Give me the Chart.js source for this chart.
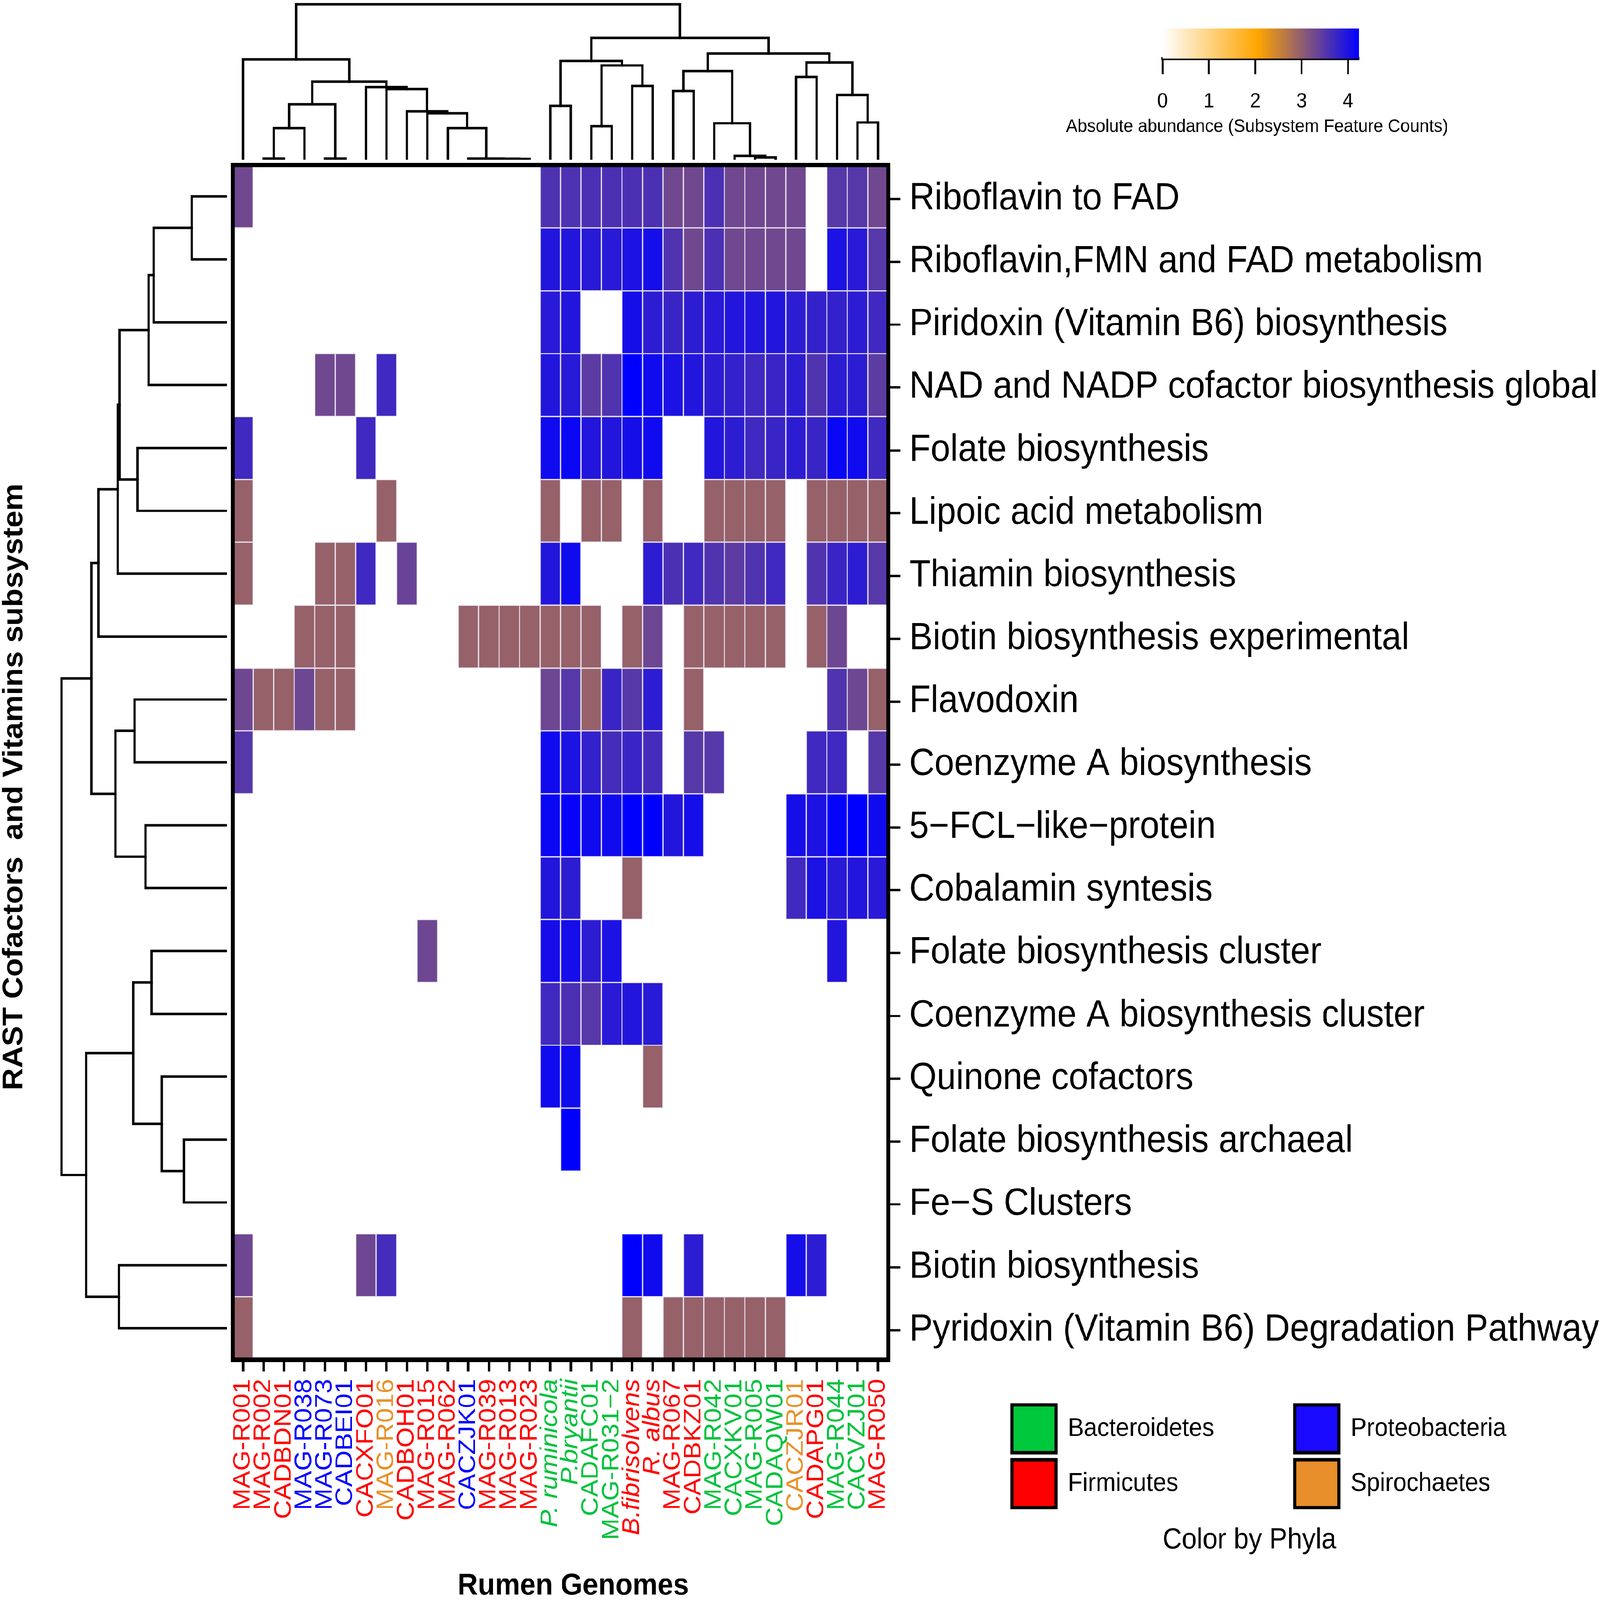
<!DOCTYPE html>
<html><head><meta charset="utf-8">
<style>
html,body{margin:0;padding:0;background:#fff;width:100%;height:100%;overflow:hidden}
#page{position:absolute;left:0;top:0;width:4550px;height:4207px;overflow:hidden;transform-origin:0 0;background:#fff}
canvas{position:absolute;display:block}
</style>
<script src="https://cdn.jsdelivr.net/npm/chart.js@4/dist/chart.umd.js"></script>
</head><body>
<div id="page">
<canvas id="main"></canvas>
<canvas id="treeTop"></canvas>
<canvas id="treeLeft"></canvas>
<canvas id="colorbar"></canvas>
<canvas id="legendA"></canvas>
<canvas id="legendB"></canvas>
</div>
<script>
const genomes=["MAG-R001","MAG-R002","CADBDN01","MAG-R038","MAG-R073","CADBEI01","CACXFO01","MAG-R016","CADBOH01","MAG-R015","MAG-R062","CACZJK01","MAG-R039","MAG-R013","MAG-R023","P. ruminicola","P.bryantii","CADAFC01","MAG-R031\u22122","B.fibrisolvens","R. albus","MAG-R067","CADBKZ01","MAG-R042","CACXKV01","MAG-R005","CADAQW01","CACZJR01","CADAPG01","MAG-R044","CACVZJ01","MAG-R050"];
const genomePhylum=["F","F","F","P","P","P","F","S","F","F","F","P","F","F","F","B","B","B","B","F","F","F","F","B","B","B","B","S","F","B","B","F"];
const italicGenomes=["P. ruminicola","P.bryantii","B.fibrisolvens","R. albus"];
const subsystems=["Riboflavin to FAD","Riboflavin,FMN and FAD metabolism","Piridoxin (Vitamin B6) biosynthesis","NAD and NADP cofactor biosynthesis global","Folate biosynthesis","Lipoic acid metabolism","Thiamin biosynthesis","Biotin biosynthesis experimental","Flavodoxin","Coenzyme A biosynthesis","5\u2212FCL\u2212like\u2212protein","Cobalamin syntesis","Folate biosynthesis cluster","Coenzyme A biosynthesis cluster","Quinone cofactors","Folate biosynthesis archaeal","Fe\u2212S Clusters","Biotin biosynthesis","Pyridoxin (Vitamin B6) Degradation Pathway"];

const rowRiboflavinFad=[3.28,0,0,0,0,0,0,0,0,0,0,0,0,0,0,3.58,3.58,3.6,3.6,3.6,3.6,3.28,3.28,3.6,3.28,3.28,3.28,3.28,0,3.5,3.5,3.28];
const rowRiboflavinMetab=[0,0,0,0,0,0,0,0,0,0,0,0,0,0,0,3.95,3.95,3.9,3.9,4.0,4.05,3.55,3.28,3.6,3.28,3.28,3.28,3.28,0,4.0,3.9,3.5];
const rowPiridoxin=[0,0,0,0,0,0,0,0,0,0,0,0,0,0,0,3.9,3.95,0,0,4.05,3.85,3.75,3.85,3.9,3.95,3.95,3.95,3.85,3.8,3.8,3.85,3.7];
const rowNad=[0,0,0,0,3.28,3.28,0,3.7,0,0,0,0,0,0,0,3.95,3.9,3.45,3.55,4.24,4.1,4.0,3.95,3.85,3.8,3.7,3.75,3.85,3.55,3.85,3.85,3.45];
const rowFolate=[3.7,0,0,0,0,0,3.7,0,0,0,0,0,0,0,0,4.1,4.15,3.95,3.95,4.05,4.1,0,0,3.95,3.85,3.7,3.75,3.85,3.75,4.15,4.1,3.7];
const rowLipoic=[2.95,0,0,0,0,0,0,2.95,0,0,0,0,0,0,0,2.95,0,2.95,2.95,0,2.95,0,0,2.95,2.95,2.95,2.95,0,2.95,2.95,2.95,2.95];
const rowThiamin=[2.95,0,0,0,2.95,2.95,3.7,0,3.35,0,0,0,0,0,0,3.95,4.1,0,0,0,3.85,3.6,3.7,3.55,3.45,3.55,3.7,0,3.55,3.75,3.85,3.5];
const rowBiotinExp=[0,0,0,2.95,2.95,2.95,0,0,0,0,0,2.95,2.95,2.95,2.95,2.95,2.95,2.95,0,2.95,3.3,0,2.95,2.95,2.95,2.95,2.95,0,2.95,3.3,0,0];
const rowFlavodoxin=[3.3,2.95,2.95,3.3,2.95,2.95,0,0,0,0,0,0,0,0,0,3.3,3.5,2.95,3.75,3.5,3.85,0,2.95,0,0,0,0,0,0,3.55,3.3,2.95];
const rowCoA=[3.5,0,0,0,0,0,0,0,0,0,0,0,0,0,0,4.1,4.0,3.8,3.65,3.75,3.65,0,3.5,3.5,0,0,0,0,3.7,3.7,0,3.5];
const rowFcl=[0,0,0,0,0,0,0,0,0,0,0,0,0,0,0,4.15,4.2,4.1,4.1,4.24,4.24,3.95,4.05,0,0,0,0,4.05,4.0,4.2,4.24,4.1];
const rowCobalamin=[0,0,0,0,0,0,0,0,0,0,0,0,0,0,0,3.95,3.85,0,0,2.95,0,0,0,0,0,0,0,3.7,4.0,3.9,3.95,3.9];
const rowFolateCluster=[0,0,0,0,0,0,0,0,0,3.3,0,0,0,0,0,4.05,4.05,3.85,4.0,0,0,0,0,0,0,0,0,0,0,3.95,0,0];
const rowCoACluster=[0,0,0,0,0,0,0,0,0,0,0,0,0,0,0,3.7,3.6,3.5,3.9,3.95,3.9,0,0,0,0,0,0,0,0,0,0,0];
const rowQuinone=[0,0,0,0,0,0,0,0,0,0,0,0,0,0,0,4.1,4.1,0,0,0,2.95,0,0,0,0,0,0,0,0,0,0,0];
const rowFolateArch=[0,0,0,0,0,0,0,0,0,0,0,0,0,0,0,0,4.24,0,0,0,0,0,0,0,0,0,0,0,0,0,0,0];
const rowFeS=[0,0,0,0,0,0,0,0,0,0,0,0,0,0,0,0,0,0,0,0,0,0,0,0,0,0,0,0,0,0,0,0];
const rowBiotin=[3.3,0,0,0,0,0,3.3,3.65,0,0,0,0,0,0,0,0,0,0,0,4.24,4.1,0,3.85,0,0,0,0,4.05,3.85,0,0,0];
const rowPyridoxinDeg=[2.95,0,0,0,0,0,0,0,0,0,0,0,0,0,0,0,0,0,0,2.95,0,2.95,2.95,2.95,2.95,2.95,2.95,0,0,0,0,0];
const abundance=[rowRiboflavinFad,rowRiboflavinMetab,rowPiridoxin,rowNad,rowFolate,rowLipoic,rowThiamin,rowBiotinExp,rowFlavodoxin,rowCoA,rowFcl,rowCobalamin,rowFolateCluster,rowCoACluster,rowQuinone,rowFolateArch,rowFeS,rowBiotin,rowPyridoxinDeg];

// dendrograms: [childA, childB, height]; child < 100 is a leaf, 100+k is the k-th merge
const topMerges=[[1,2,3],[100,3,83],[4,5,3],[101,102,146],[13,14,2],[12,104,2.5],[11,105,3],[10,106,83],[9,107,122],[8,108,127],[7,109,186],[6,110,191],[103,111,205],[0,112,264],
[15,16,142],[17,18,88],[19,20,194],[115,116,248],[114,117,260],[21,22,181],[25,26,6],[24,120,10],[23,121,96],[119,122,233],[27,28,218],[30,31,98],[29,125,170],[124,126,256],[123,127,279],[118,128,320],[113,129,409]];
const leftMerges=[[0,1,99.5],[100,2,208],[101,3,222],[4,5,254],[102,103,305],[104,6,310],[105,7,365],[8,9,262],[10,11,231],[107,108,317],[106,109,385],[12,13,214],[15,16,122],[14,112,185],[111,113,266],[17,18,307],[114,115,400],[110,116,470]];

const colorStopValues=[0,2.05,4.24];
const colorStopRGB=[[255,255,255],[255,165,0],[0,0,255]];
const colorbarTicks=[0,1,2,3,4];
const phylaCodes=["B","F","P","S"];
const phylaNames={B:"Bacteroidetes",F:"Firmicutes",P:"Proteobacteria",S:"Spirochaetes"};
const labelColors={B:"#00C23C",F:"#FF0000",P:"#0000FF",S:"#E8912A"};
const swatchColors={B:"#00C83C",F:"#FF0000",P:"#1A0AFF",S:"#E88E2A"};

// the design grid is the reference's 4550x4207; the page is fitted to the real window
document.getElementById('page').style.transform=`scale(${window.innerWidth/4550},${window.innerHeight/4207})`;

const SANS='"Liberation Sans", Arial, sans-serif';
Chart.defaults.font.family=SANS;
Chart.defaults.color='#000';

function place(id,l,t,w,h){const c=document.getElementById(id);c.width=w;c.height=h;c.style.left=l+'px';c.style.top=t+'px';c.style.width=w+'px';c.style.height=h+'px';return c;}
function colorFor(v){
  for(let i=1;i<colorStopValues.length;i++){
    if(v<=colorStopValues[i]){
      const t=(v-colorStopValues[i-1])/(colorStopValues[i]-colorStopValues[i-1]);
      const a=colorStopRGB[i-1],b=colorStopRGB[i];
      return `rgb(${a.map((x,k)=>Math.round(x+(b[k]-x)*t)).join(',')})`;
    }
  }
  return 'rgb(0,0,255)';
}
const base={responsive:false,animation:false,devicePixelRatio:1,events:[],plugins:{legend:{display:false},tooltip:{enabled:false},title:{display:false}}};

const PLOT={l:662,t:434,r:2526,b:3575};

const pageTexts={id:'pageTexts',afterDraw(chart){
  const c=chart.ctx;c.save();c.fillStyle='#000';c.textBaseline='middle';c.textAlign='center';
  c.font='bold 80px '+SANS;c.fillText('Rumen Genomes',1630,4171);
  c.font='76px '+SANS;c.fillText('Color by Phyla',3553,4050);
  c.font='49px '+SANS;c.fillText('Absolute abundance (Subsystem Feature Counts)',3575,333);
  c.translate(41,2069);c.rotate(-Math.PI/2);
  c.font='bold 80px '+SANS;c.fillText('RAST Cofactors  and Vitamins subsystem',0,0);
  c.restore();
}};
const frame={id:'frame',afterDatasetsDraw(chart){
  const a=chart.chartArea,c=chart.ctx;c.save();c.strokeStyle='#000';c.lineWidth=12;
  c.strokeRect(a.left,a.top,a.right-a.left,a.bottom-a.top);c.restore();
}};

new Chart(place('main',0,0,4550,4207),{
  type:'bar',
  data:{labels:genomes,datasets:abundance.map((row,r)=>({
    label:subsystems[r],yAxisID:'y',
    data:row.map(v=>v>0?[r-0.5,r+0.5]:null),
    backgroundColor:row.map(v=>colorFor(v)),
    borderColor:'#E6E0EE',borderWidth:2,borderSkipped:false,
    grouped:false,barPercentage:1,categoryPercentage:1
  }))},
  options:{...base,
    layout:{padding:{left:PLOT.l,top:PLOT.t,right:0,bottom:0}},
    scales:{
      x:{type:'category',offset:true,position:'bottom',
        afterFit(s){s.height=4207-PLOT.b;},
        border:{display:false},
        grid:{display:true,offset:false,drawOnChartArea:false,drawTicks:true,tickLength:31,tickWidth:7,tickColor:'#000'},
        ticks:{autoSkip:false,minRotation:90,maxRotation:90,padding:20,
          color:c=>labelColors[genomePhylum[c.index]],
          font:c=>({family:SANS,size:69,style:italicGenomes.includes(genomes[c.index])?'italic':'normal'})}},
      y:{type:'linear',display:false,reverse:true,min:-0.5,max:18.5},
      yr:{type:'linear',position:'right',reverse:true,min:-0.54,max:18.47,
        afterFit(s){s.width=4550-PLOT.r;},
        border:{display:false},
        grid:{display:true,drawOnChartArea:false,drawTicks:true,tickLength:34,tickWidth:6,tickColor:'#000'},
        ticks:{autoSkip:false,stepSize:1,includeBounds:false,padding:26,color:'#000',font:{size:99.5,family:SANS},
          callback:v=>subsystems[v]??''}}
    }
  },
  plugins:[frame,pageTexts]
});

function treeSegments(merges,vertical){
  const pos=[],hgt=[];
  const P=k=>k<100?k:pos[k-100], H=k=>k<100?0:hgt[k-100];
  return merges.map(([a,b,h])=>{
    const pts=[[P(a),H(a)],[P(a),h],[P(b),h],[P(b),H(b)]];
    pos.push((P(a)+P(b))/2);hgt.push(h);
    return {data:pts.map(([p,q])=>vertical?{x:p,y:q}:{x:q,y:p}),showLine:true,pointRadius:0,borderColor:'#000',borderWidth:6.5,
      borderCapStyle:'square',borderJoinStyle:'miter',clip:false,tension:0};
  });
}
new Chart(place('treeTop',PLOT.l,0,PLOT.r-PLOT.l,420),{
  type:'scatter',data:{datasets:treeSegments(topMerges,true)},
  options:{...base,layout:{padding:0},scales:{
    x:{type:'linear',display:false,min:-0.5,max:31.5},
    y:{type:'linear',display:false,min:0,max:420}}}
});
new Chart(place('treeLeft',0,PLOT.t,645,PLOT.b-PLOT.t),{
  type:'scatter',data:{datasets:treeSegments(leftMerges,false)},
  options:{...base,layout:{padding:0},scales:{
    x:{type:'linear',display:false,reverse:true,min:0,max:645},
    y:{type:'linear',display:false,reverse:true,min:-0.5,max:18.5}}}
});

const CB_MAX=colorStopValues[colorStopValues.length-1];
new Chart(place('colorbar',3000,0,1200,362),{
  type:'bar',
  data:{labels:['abundance'],datasets:[{data:[[0,CB_MAX]],barPercentage:1,categoryPercentage:1,borderWidth:0,
    backgroundColor(c){
      const a=c.chart.chartArea;if(!a)return '#000';
      const x=c.chart.scales.x,g=c.chart.ctx.createLinearGradient(x.getPixelForValue(0),0,x.getPixelForValue(CB_MAX),0);
      colorStopValues.forEach((v,i)=>g.addColorStop(v/CB_MAX,colorFor(v)));
      return g;
    }}]},
  options:{...base,indexAxis:'y',
    layout:{padding:{left:306,right:335,top:75,bottom:0}},
    scales:{
      y:{display:false},
      x:{type:'linear',position:'bottom',min:0,max:CB_MAX,
        afterFit(s){s.height=208;},
        border:{display:true,width:8,color:'#000'},
        grid:{display:true,drawOnChartArea:false,drawTicks:true,tickLength:41,tickWidth:5,tickColor:'#000'},
        ticks:{stepSize:1,includeBounds:false,padding:40,color:'#000',font:{size:54,family:SANS},
          callback:v=>colorbarTicks.includes(v)?String(v):''}
      }
    }
  }
});

function legendChart(id,left,codes){
  new Chart(place(id,left,3676,1400,340),{
    type:'bar',
    data:{labels:[],datasets:codes.map(k=>({label:phylaNames[k],data:[],backgroundColor:swatchColors[k],borderColor:'#000',borderWidth:9}))},
    options:{...base,layout:{padding:0},scales:{x:{display:false},y:{display:false}},
      plugins:{tooltip:{enabled:false},legend:{display:true,position:'left',align:'start',
        labels:{boxWidth:125,boxHeight:126,padding:18,color:'#000',font:{size:68,family:SANS}}}}}
  });
}
legendChart('legendA',2860,[phylaCodes[0],phylaCodes[1]]);
legendChart('legendB',3664,[phylaCodes[2],phylaCodes[3]]);
</script>
</body></html>
